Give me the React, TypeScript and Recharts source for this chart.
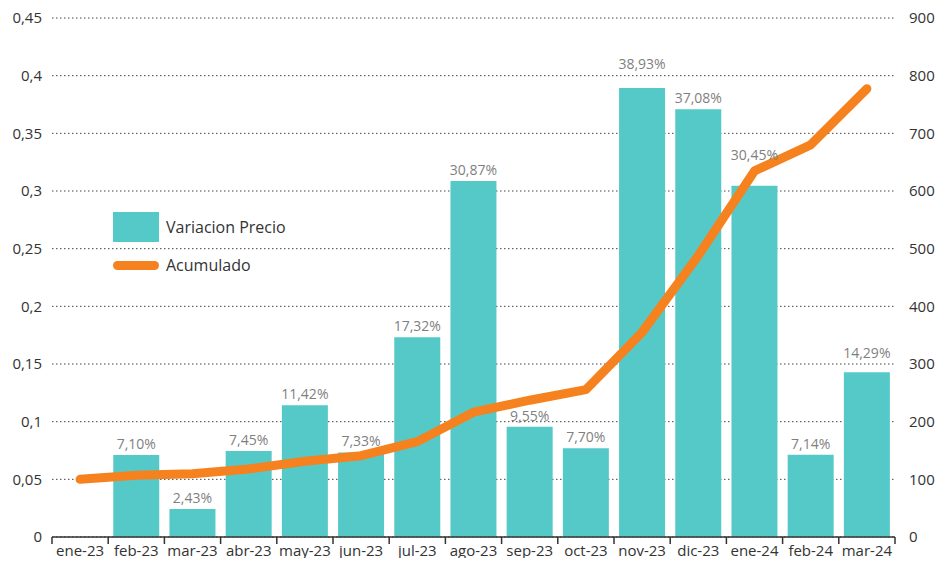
import { ComposedChart, Bar, Line, XAxis, YAxis, CartesianGrid, LabelList } from "recharts";

const months = ["ene-23", "feb-23", "mar-23", "abr-23", "may-23", "jun-23", "jul-23", "ago-23", "sep-23", "oct-23", "nov-23", "dic-23", "ene-24", "feb-24", "mar-24"];
const variacion = [null, 0.071, 0.0243, 0.0745, 0.1142, 0.0733, 0.1732, 0.3087, 0.0955, 0.077, 0.3893, 0.3708, 0.3045, 0.0714, 0.1429];
const acumulado = [100, 107.1, 109.7, 117.9, 131.4, 141.0, 165.4, 216.5, 237.2, 255.5, 355.0, 488.0, 634.8, 680.1, 777.3];
const leftTicks = [0, 0.05, 0.1, 0.15, 0.2, 0.25, 0.3, 0.35, 0.4, 0.45];
const rightTicks = [0, 100, 200, 300, 400, 500, 600, 700, 800, 900];

const TEAL = "#55C9C8";
const ORANGE = "#F5821F";
const FONT = "'Open Sans', sans-serif";

const W = 950;
const H = 566;
const LEFT_W = 52;
const RIGHT_W = 55;
const STEP = (W - LEFT_W - RIGHT_W) / months.length;

// labels the original nudged up to clear the line (keyed by bar value)
const LABEL_LIFT: Record<string, number> = { "0.3893": 13, "0.3045": 20, "0.1429": 8 };

const data = months.map((m, i) => ({ month: m, variacion: variacion[i], acumulado: acumulado[i] }));

const fmtLeft = (v: number) => String(Number(v.toFixed(2))).replace(".", ",");
const fmtPct = (v: any) => (v == null ? "" : (v * 100).toFixed(2).replace(".", ",") + "%");

const MonthTick = (props: any) => {
  const { x, y, payload, index } = props;
  const last = index === months.length - 1;
  return (
    <g>
      <line x1={x - STEP / 2} x2={x - STEP / 2} y1={y - 8} y2={y - 1} stroke="#333" strokeWidth={1.5} />
      {last && <line x1={x + STEP / 2} x2={x + STEP / 2} y1={y - 8} y2={y - 1} stroke="#333" strokeWidth={1.5} />}
      <text x={x} y={y + 11} textAnchor="middle" fontSize={15} fill="#333" fontFamily={FONT}>
        {payload.value}
      </text>
    </g>
  );
};

const BarLabel = (props: any) => {
  const { x, y, width, value } = props;
  if (value == null) return null;
  const lift = LABEL_LIFT[String(value)] ?? 0;
  return (
    <text x={x + width / 2} y={y - 6 - lift} textAnchor="middle" fill="#7F7F7F" fontSize={14} fontFamily={FONT}>
      {fmtPct(value)}
    </text>
  );
};

const LegendBox = () => (
  <div style={{ position: "absolute", top: 212, left: 113, fontFamily: FONT, fontSize: 16, color: "#333" }}>
    <div style={{ display: "flex", alignItems: "center", height: 30 }}>
      <div style={{ width: 46, height: 30, background: TEAL }} />
      <span style={{ marginLeft: 7 }}>Variacion Precio</span>
    </div>
    <div style={{ display: "flex", alignItems: "center", height: 30, marginTop: 8 }}>
      <div style={{ width: 46, height: 9, background: ORANGE, borderRadius: 5 }} />
      <span style={{ marginLeft: 7 }}>Acumulado</span>
    </div>
  </div>
);

export default function App() {
  return (
    <div style={{ margin: -8, width: W, height: H, background: "#fff", position: "relative" }}>
      <ComposedChart width={W} height={H} data={data} margin={{ top: 18, right: 0, bottom: 0, left: 0 }} barCategoryGap="9%">
        <CartesianGrid vertical={false} stroke="#444" strokeDasharray="1.5 2.5" yAxisId="left" />
        <XAxis
          dataKey="month"
          height={29}
          tickLine={false}
          axisLine={{ stroke: "#333", strokeWidth: 1.5 }}
          tick={<MonthTick />}
          interval={0}
        />
        <YAxis
          yAxisId="left"
          orientation="left"
          width={LEFT_W}
          domain={[0, 0.45]}
          ticks={leftTicks}
          tickFormatter={fmtLeft}
          axisLine={false}
          tickLine={false}
          tick={{ fill: "#333", fontSize: 15, fontFamily: FONT }}
          tickMargin={4}
        />
        <YAxis
          yAxisId="right"
          orientation="right"
          width={RIGHT_W}
          domain={[0, 900]}
          ticks={rightTicks}
          axisLine={false}
          tickLine={false}
          tick={{ fill: "#333", fontSize: 15, fontFamily: FONT, textAnchor: "start" }}
          tickMargin={8}
        />
        <Bar yAxisId="left" dataKey="variacion" fill={TEAL} isAnimationActive={false}>
          <LabelList dataKey="variacion" content={<BarLabel />} />
        </Bar>
        <Line
          yAxisId="right"
          dataKey="acumulado"
          type="linear"
          stroke={ORANGE}
          strokeWidth={9}
          strokeLinecap="round"
          strokeLinejoin="round"
          dot={false}
          activeDot={false}
          isAnimationActive={false}
        />
      </ComposedChart>
      <LegendBox />
    </div>
  );
}
